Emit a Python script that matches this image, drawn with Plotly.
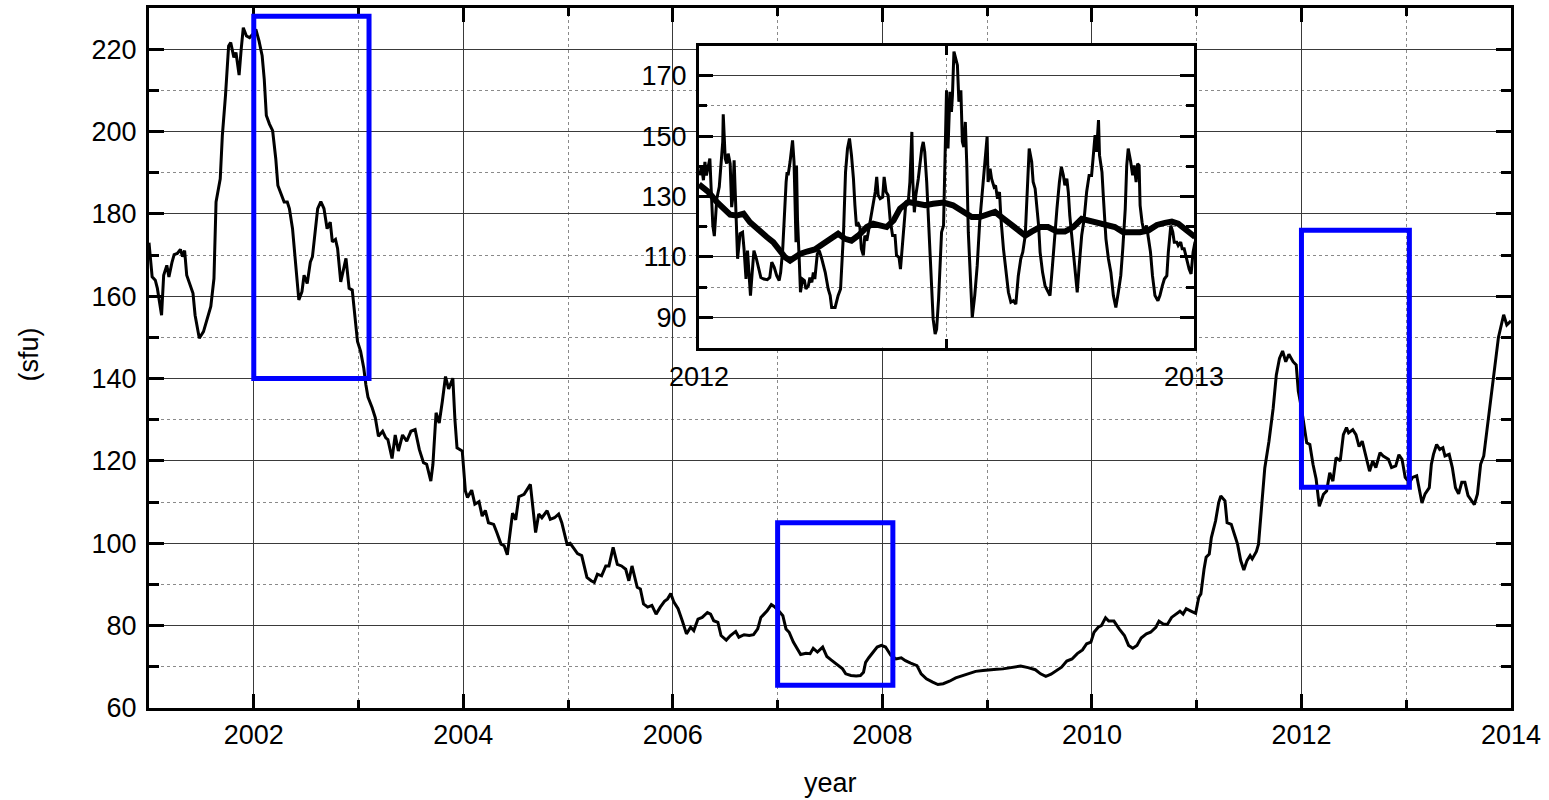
import plotly.graph_objects as go

# ---------------- data ----------------
main_year = [
    2001.00, 2001.03, 2001.06, 2001.08, 2001.12, 2001.14, 2001.17, 2001.19, 2001.22, 2001.24,
    2001.27, 2001.30, 2001.32, 2001.34, 2001.36, 2001.40, 2001.42, 2001.44, 2001.48, 2001.52,
    2001.56, 2001.59, 2001.62, 2001.64, 2001.68, 2001.70, 2001.73, 2001.76, 2001.78, 2001.81,
    2001.83, 2001.86, 2001.88, 2001.90, 2001.93, 2001.96, 2001.99, 2002.02, 2002.05, 2002.08,
    2002.10, 2002.12, 2002.15, 2002.18, 2002.21, 2002.23, 2002.26, 2002.29, 2002.32, 2002.34,
    2002.37, 2002.40, 2002.43, 2002.46, 2002.48, 2002.51, 2002.54, 2002.56, 2002.58, 2002.61,
    2002.64, 2002.67, 2002.70, 2002.73, 2002.75, 2002.78, 2002.80, 2002.83, 2002.88, 2002.91,
    2002.94, 2002.96, 2002.99, 2003.02, 2003.05, 2003.07, 2003.09, 2003.13, 2003.16, 2003.19,
    2003.23, 2003.26, 2003.28, 2003.32, 2003.35, 2003.38, 2003.42, 2003.46, 2003.50, 2003.54,
    2003.58, 2003.62, 2003.65, 2003.69, 2003.71, 2003.74, 2003.77, 2003.80, 2003.83, 2003.86,
    2003.90, 2003.92, 2003.94, 2003.99, 2004.02, 2004.04, 2004.08, 2004.11, 2004.15, 2004.18,
    2004.21, 2004.24, 2004.29, 2004.32, 2004.36, 2004.39, 2004.42, 2004.47, 2004.50, 2004.53,
    2004.58, 2004.61, 2004.64, 2004.69, 2004.72, 2004.75, 2004.80, 2004.83, 2004.87, 2004.91,
    2004.94, 2004.99, 2005.02, 2005.06, 2005.09, 2005.13, 2005.18, 2005.22, 2005.25, 2005.28,
    2005.32, 2005.36, 2005.39, 2005.43, 2005.47, 2005.51, 2005.55, 2005.58, 2005.61, 2005.66,
    2005.69, 2005.72, 2005.76, 2005.80, 2005.84, 2005.88, 2005.92, 2005.95, 2005.98, 2006.01,
    2006.05, 2006.09, 2006.13, 2006.17, 2006.20, 2006.24, 2006.28, 2006.33, 2006.36, 2006.39,
    2006.43, 2006.46, 2006.51, 2006.55, 2006.60, 2006.63, 2006.68, 2006.73, 2006.77, 2006.81,
    2006.84, 2006.87, 2006.90, 2006.94, 2006.97, 2007.01, 2007.05, 2007.08, 2007.11, 2007.15,
    2007.19, 2007.22, 2007.27, 2007.31, 2007.34, 2007.38, 2007.43, 2007.47, 2007.51, 2007.55,
    2007.59, 2007.62, 2007.65, 2007.70, 2007.75, 2007.79, 2007.82, 2007.84, 2007.87, 2007.91,
    2007.95, 2007.99, 2008.03, 2008.08, 2008.13, 2008.18, 2008.22, 2008.27, 2008.33, 2008.37,
    2008.42, 2008.48, 2008.53, 2008.58, 2008.64, 2008.70, 2008.77, 2008.83, 2008.89, 2008.96,
    2009.02, 2009.09, 2009.15, 2009.22, 2009.32, 2009.39, 2009.46, 2009.51, 2009.56, 2009.61,
    2009.66, 2009.71, 2009.76, 2009.81, 2009.86, 2009.91, 2009.95, 2009.99, 2010.02, 2010.06,
    2010.09, 2010.13, 2010.16, 2010.21, 2010.26, 2010.31, 2010.35, 2010.39, 2010.43, 2010.47,
    2010.52, 2010.56, 2010.61, 2010.64, 2010.68, 2010.72, 2010.76, 2010.80, 2010.84, 2010.87,
    2010.90, 2010.94, 2010.99, 2011.02, 2011.04, 2011.07, 2011.09, 2011.12, 2011.14, 2011.18,
    2011.21, 2011.23, 2011.27, 2011.29, 2011.33, 2011.36, 2011.39, 2011.42, 2011.45, 2011.48,
    2011.51, 2011.53, 2011.57, 2011.59, 2011.62, 2011.65, 2011.69, 2011.73, 2011.76, 2011.79,
    2011.82, 2011.85, 2011.88, 2011.92, 2011.95, 2011.97, 2012.00, 2012.03, 2012.05, 2012.08,
    2012.11, 2012.14, 2012.17, 2012.21, 2012.24, 2012.27, 2012.30, 2012.33, 2012.37, 2012.40,
    2012.43, 2012.45, 2012.49, 2012.52, 2012.55, 2012.58, 2012.61, 2012.65, 2012.68, 2012.71,
    2012.75, 2012.78, 2012.83, 2012.86, 2012.90, 2012.93, 2012.96, 2012.99, 2013.03, 2013.06,
    2013.10, 2013.13, 2013.15, 2013.18, 2013.22, 2013.24, 2013.26, 2013.29, 2013.32, 2013.35,
    2013.37, 2013.41, 2013.44, 2013.47, 2013.50, 2013.53, 2013.56, 2013.59, 2013.62, 2013.65,
    2013.68, 2013.71, 2013.74, 2013.78, 2013.81, 2013.84, 2013.88, 2013.93, 2013.96, 2014.00,
]
main_sfu = [
    173.0, 164.7, 163.9, 161.9, 155.4, 165.1, 167.5, 164.7, 168.3, 170.1,
    170.4, 171.4, 169.6, 171.1, 165.1, 161.9, 160.7, 155.4, 149.8, 151.4,
    155.0, 157.5, 164.3, 182.9, 188.5, 199.0, 208.7, 220.8, 221.6, 218.0,
    219.2, 213.7, 220.0, 225.2, 223.2, 222.8, 223.6, 224.8, 222.0, 218.4,
    212.7, 203.9, 201.8, 200.2, 193.4, 186.9, 184.9, 182.9, 182.9, 181.3,
    176.4, 167.5, 159.1, 161.1, 165.1, 163.1, 168.3, 169.6, 174.8, 181.3,
    183.0, 181.3, 176.4, 178.0, 173.2, 173.8, 171.6, 163.5, 169.2, 161.9,
    161.5, 157.0, 149.0, 146.6, 142.5, 138.5, 135.5, 132.9, 130.5, 126.0,
    127.2, 125.6, 125.2, 120.6, 126.3, 122.4, 126.3, 124.8, 127.2, 127.6,
    122.8, 119.6, 119.2, 115.1, 119.2, 131.7, 129.2, 134.5, 140.5, 137.5,
    140.1, 130.0, 123.2, 122.4, 112.7, 111.1, 112.9, 109.5, 110.1, 106.6,
    108.0, 105.0, 104.6, 102.6, 99.8, 99.4, 97.2, 107.3, 105.7, 111.3,
    111.9, 113.1, 114.3, 102.6, 107.1, 106.2, 107.9, 105.8, 106.2, 107.1,
    105.0, 99.8, 100.0, 98.6, 97.5, 97.0, 91.7, 90.9, 90.5, 92.5,
    92.1, 94.5, 94.5, 99.0, 94.9, 94.5, 93.7, 90.9, 94.5, 89.3,
    88.9, 85.3, 84.5, 84.9, 82.8, 84.5, 85.9, 86.5, 87.8, 85.7,
    84.1, 81.2, 78.0, 79.6, 78.8, 81.6, 82.0, 83.2, 82.8, 81.2,
    80.8, 77.6, 76.5, 77.6, 78.6, 77.2, 77.8, 77.6, 77.8, 79.2,
    82.0, 82.8, 83.6, 85.1, 84.6, 83.6, 82.4, 79.2, 78.4, 76.0,
    74.4, 73.0, 73.3, 73.2, 74.5, 73.6, 74.8, 72.5, 71.7, 70.9,
    70.2, 69.5, 68.3, 67.9, 67.8, 67.9, 68.7, 71.1, 72.2, 73.6,
    74.8, 75.2, 74.8, 72.8, 71.9, 72.2, 71.5, 70.9, 70.3, 68.3,
    67.1, 66.3, 65.7, 65.9, 66.5, 67.3, 67.9, 68.5, 68.9, 69.1,
    69.3, 69.4, 69.5, 69.8, 70.2, 69.8, 69.3, 68.3, 67.7, 68.2,
    69.0, 69.9, 71.4, 71.9, 73.2, 74.1, 75.6, 76.0, 78.4, 79.6,
    80.0, 81.9, 81.1, 81.1, 79.2, 77.6, 75.2, 74.5, 75.2, 77.0,
    78.0, 78.4, 79.6, 81.1, 80.4, 80.3, 82.0, 82.8, 83.5, 82.8,
    84.1, 83.6, 83.0, 86.9, 87.7, 93.7, 96.6, 97.4, 101.4, 105.4,
    109.9, 111.5, 110.3, 105.0, 104.6, 102.2, 99.8, 95.8, 93.5, 95.8,
    97.0, 96.2, 98.0, 99.8, 110.3, 118.3, 124.8, 132.8, 140.9, 144.9,
    146.7, 144.1, 145.9, 144.1, 143.3, 136.9, 132.8, 127.2, 124.4, 124.0,
    119.2, 115.6, 109.0, 111.9, 112.7, 117.1, 115.1, 120.8, 120.0, 126.4,
    128.1, 126.8, 127.6, 126.4, 123.5, 124.8, 121.5, 117.5, 120.0, 118.4,
    122.0, 121.2, 120.4, 118.4, 118.8, 121.5, 120.4, 116.0, 114.7, 116.0,
    116.4, 112.0, 109.8, 112.0, 113.5, 119.2, 121.6, 124.0, 122.8, 123.2,
    121.2, 121.6, 118.4, 113.5, 112.0, 114.8, 114.8, 111.6, 110.4, 109.4,
    112.0, 119.2, 121.2, 129.6, 135.2, 142.5, 150.0, 155.5, 153.0, 154.0,
]

# inset: daily values during 2012
daily_year = [
    2012.002, 2012.005, 2012.009, 2012.012, 2012.015, 2012.019, 2012.022, 2012.024, 2012.028, 2012.031,
    2012.036, 2012.041, 2012.044, 2012.048, 2012.049, 2012.053, 2012.056, 2012.059, 2012.063, 2012.066,
    2012.068, 2012.071, 2012.073, 2012.076, 2012.078, 2012.083, 2012.088, 2012.091, 2012.095, 2012.098,
    2012.100, 2012.104, 2012.107, 2012.111, 2012.116, 2012.121, 2012.125, 2012.131, 2012.138, 2012.143,
    2012.147, 2012.152, 2012.157, 2012.162, 2012.165, 2012.169, 2012.172, 2012.176, 2012.178, 2012.180,
    2012.184, 2012.187, 2012.189, 2012.192, 2012.194, 2012.196, 2012.197, 2012.199, 2012.203, 2012.205,
    2012.209, 2012.213, 2012.216, 2012.221, 2012.224, 2012.228, 2012.231, 2012.234, 2012.239, 2012.243,
    2012.248, 2012.255, 2012.261, 2012.265, 2012.268, 2012.275, 2012.281, 2012.286, 2012.292, 2012.296,
    2012.300, 2012.304, 2012.308, 2012.312, 2012.315, 2012.318, 2012.322, 2012.325, 2012.328, 2012.332,
    2012.335, 2012.339, 2012.342, 2012.347, 2012.351, 2012.356, 2012.359, 2012.362, 2012.366, 2012.371,
    2012.374, 2012.378, 2012.382, 2012.386, 2012.391, 2012.396, 2012.399, 2012.404, 2012.407, 2012.411,
    2012.414, 2012.418, 2012.423, 2012.426, 2012.430, 2012.432, 2012.435, 2012.438, 2012.443, 2012.446,
    2012.450, 2012.453, 2012.456, 2012.460, 2012.465, 2012.470, 2012.473, 2012.477, 2012.480, 2012.484,
    2012.490, 2012.494, 2012.497, 2012.500, 2012.503, 2012.507, 2012.510, 2012.512, 2012.515, 2012.519,
    2012.522, 2012.525, 2012.529, 2012.532, 2012.535, 2012.538, 2012.541, 2012.544, 2012.548, 2012.552,
    2012.557, 2012.562, 2012.567, 2012.573, 2012.577, 2012.582, 2012.584, 2012.588, 2012.591, 2012.596,
    2012.599, 2012.603, 2012.607, 2012.610, 2012.615, 2012.620, 2012.625, 2012.630, 2012.635, 2012.640,
    2012.645, 2012.650, 2012.654, 2012.659, 2012.662, 2012.667, 2012.672, 2012.675, 2012.679, 2012.682,
    2012.686, 2012.689, 2012.694, 2012.699, 2012.704, 2012.709, 2012.714, 2012.718, 2012.723, 2012.728,
    2012.732, 2012.736, 2012.739, 2012.743, 2012.746, 2012.749, 2012.755, 2012.759, 2012.764, 2012.768,
    2012.773, 2012.778, 2012.783, 2012.788, 2012.793, 2012.796, 2012.800, 2012.803, 2012.807, 2012.809,
    2012.814, 2012.817, 2012.822, 2012.827, 2012.832, 2012.837, 2012.842, 2012.847, 2012.852, 2012.856,
    2012.861, 2012.864, 2012.867, 2012.872, 2012.876, 2012.879, 2012.883, 2012.886, 2012.889, 2012.891,
    2012.895, 2012.899, 2012.904, 2012.908, 2012.912, 2012.916, 2012.921, 2012.927, 2012.931, 2012.936,
    2012.940, 2012.945, 2012.948, 2012.953, 2012.957, 2012.960, 2012.965, 2012.968, 2012.973, 2012.976,
    2012.980, 2012.985, 2012.990, 2012.994, 2012.998, 2013.002,
]
daily_sfu = [
    137.0, 140.3, 135.4, 141.5, 137.0, 140.9, 142.6, 134.8, 120.4, 116.9,
    129.3, 133.2, 139.8, 148.1, 157.2, 142.6, 140.9, 144.2, 140.9, 126.5,
    129.3, 142.0, 132.6, 112.7, 109.4, 117.7, 118.2, 112.7, 102.7, 112.1,
    106.6, 97.2, 103.8, 112.1, 109.4, 106.0, 103.2, 102.7, 102.5, 103.2,
    108.3, 106.6, 103.8, 102.2, 104.9, 112.1, 123.2, 134.8, 138.1, 137.0,
    141.5, 146.4, 148.6, 141.5, 127.1, 114.9, 140.3, 122.6, 107.1, 98.3,
    102.7, 102.2, 99.4, 100.5, 103.2, 101.6, 104.9, 102.7, 111.0, 112.1,
    109.4, 104.9, 99.4, 97.2, 93.3, 93.3, 97.2, 99.4, 118.2, 138.1,
    145.9, 149.2, 143.7, 135.9, 127.1, 120.4, 121.0, 119.9, 112.7, 110.5,
    117.1, 115.4, 118.2, 122.6, 127.1, 131.5, 136.5, 130.4, 129.3, 129.8,
    136.5, 131.5, 130.4, 122.6, 117.1, 117.1, 110.5, 109.9, 106.0, 113.8,
    121.5, 128.2, 128.7, 134.8, 151.4, 134.8, 124.8, 130.4, 135.9, 140.9,
    145.9, 148.1, 144.8, 134.8, 118.2, 99.4, 89.4, 84.5, 86.1, 96.1,
    118.2, 120.4, 140.3, 165.2, 145.9, 164.7, 158.0, 163.6, 178.0, 175.8,
    173.5, 161.4, 165.2, 148.1, 146.4, 154.7, 140.3, 118.2, 101.6, 90.0,
    97.2, 107.1, 121.5, 132.6, 140.3, 149.8, 134.8, 139.2, 135.9, 133.2,
    133.7, 129.3, 131.5, 122.6, 112.7, 104.9, 98.3, 95.0, 95.5, 94.4,
    103.8, 109.4, 111.6, 117.1, 128.2, 145.9, 141.5, 134.8, 132.6, 127.6,
    120.4, 111.6, 104.9, 100.5, 98.8, 97.2, 107.1, 116.0, 125.9, 134.8,
    139.8, 137.0, 133.7, 135.9, 131.5, 123.7, 112.7, 107.1, 98.3, 107.1,
    117.1, 122.6, 131.5, 137.0, 137.0, 142.6, 150.3, 144.8, 155.3, 143.7,
    138.1, 129.3, 116.0, 109.4, 104.9, 97.2, 93.3, 98.3, 103.8, 112.7,
    125.9, 140.3, 145.9, 141.5, 137.0, 140.3, 134.8, 140.9, 140.3, 127.1,
    121.5, 118.2, 120.4, 116.0, 111.6, 103.8, 97.2, 95.5, 97.2, 100.5,
    102.7, 103.8, 111.6, 120.4, 118.2, 114.9, 114.9, 113.8, 114.9, 112.7,
    112.7, 109.4, 106.0, 104.4, 111.6, 115.0,
]

# inset: smoothed values during 2012
smooth_year = [
    2012.000, 2012.019, 2012.036, 2012.053, 2012.063, 2012.076, 2012.090, 2012.103, 2012.120, 2012.137,
    2012.150, 2012.164, 2012.174, 2012.184, 2012.194, 2012.204, 2012.218, 2012.234, 2012.251, 2012.268,
    2012.281, 2012.295, 2012.308, 2012.322, 2012.339, 2012.352, 2012.366, 2012.379, 2012.393, 2012.406,
    2012.423, 2012.440, 2012.457, 2012.473, 2012.494, 2012.513, 2012.533, 2012.551, 2012.567, 2012.584,
    2012.598, 2012.611, 2012.628, 2012.643, 2012.659, 2012.672, 2012.689, 2012.705, 2012.723, 2012.739,
    2012.756, 2012.773, 2012.790, 2012.807, 2012.824, 2012.840, 2012.857, 2012.874, 2012.891, 2012.908,
    2012.925, 2012.941, 2012.955, 2012.968, 2012.985, 2013.002,
]
smooth_sfu = [
    134.0, 131.5, 128.2, 125.4, 124.0, 123.7, 124.3, 121.5, 118.8, 116.6,
    114.9, 112.1, 109.9, 108.8, 109.9, 111.0, 111.8, 112.5, 114.4, 116.6,
    117.7, 116.0, 115.4, 117.1, 119.9, 121.0, 120.4, 119.9, 122.1, 126.0,
    128.2, 127.6, 127.1, 127.6, 128.0, 127.1, 124.9, 123.2, 123.2, 124.3,
    124.9, 123.2, 121.0, 118.8, 117.1, 118.4, 119.9, 119.9, 118.4, 118.4,
    119.9, 122.6, 121.9, 121.5, 121.0, 119.9, 118.2, 118.2, 118.2, 118.8,
    120.6, 121.3, 121.7, 121.0, 118.8, 116.6,
]

# highlighted intervals (blue boxes)
box_x0 = [2002.0, 2007.0, 2012.0]
box_x1 = [2003.1, 2008.1, 2013.03]
box_y0 = [140.0, 65.5, 113.6]
box_y1 = [228.0, 105.0, 176.0]

x_ticks_main = [2002, 2004, 2006, 2008, 2010, 2012, 2014]
y_ticks_main = [60, 80, 100, 120, 140, 160, 180, 200, 220]
x_ticks_inset = [2012, 2013]
y_ticks_inset = [90, 110, 130, 150, 170]

# ---------------- figure ----------------
FONT = "Liberation Sans, Arial, Helvetica, sans-serif"
FS = 27
TICKFONT = dict(family=FONT, size=FS, color="black")

fig = go.Figure()
fig.add_trace(go.Scatter(x=main_year, y=main_sfu, mode="lines",
                         line=dict(color="black", width=3),
                         xaxis="x", yaxis="y", showlegend=False, hoverinfo="skip"))
fig.add_trace(go.Scatter(x=daily_year, y=daily_sfu, mode="lines",
                         line=dict(color="black", width=3),
                         xaxis="x2", yaxis="y2", showlegend=False, hoverinfo="skip"))
fig.add_trace(go.Scatter(x=smooth_year, y=smooth_sfu, mode="lines",
                         line=dict(color="black", width=6),
                         xaxis="x2", yaxis="y2", showlegend=False, hoverinfo="skip"))

common = dict(showline=True, linecolor="black", linewidth=3, mirror="ticks",
              ticks="inside", tickcolor="black", tickwidth=2.5,
              showgrid=True, gridcolor="#3a3a3a", gridwidth=1, zeroline=False,
              tickfont=TICKFONT)
minor_common = dict(ticks="inside", tickcolor="black", tickwidth=2.5,
                    showgrid=True, gridcolor="#8a8a8a", gridwidth=1, griddash="dot")

shapes = []
# white background for the inset (covers the main grid)
shapes.append(dict(type="rect", xref="x2", yref="y2", x0=2012, x1=2013, y0=80, y1=180,
                   fillcolor="white", line=dict(width=0), layer="below"))
for a, b, c, d in zip(box_x0, box_x1, box_y0, box_y1):
    shapes.append(dict(type="rect", xref="x", yref="y", x0=a, x1=b, y0=c, y1=d,
                       line=dict(color="#0000ff", width=5), fillcolor="rgba(0,0,0,0)",
                       layer="above"))

fig.update_layout(
    width=1549, height=800,
    margin=dict(l=149, r=38, t=5, b=92),
    paper_bgcolor="white", plot_bgcolor="white",
    font=dict(family=FONT, color="black"),
    showlegend=False,
    xaxis=dict(common, range=[2001, 2014], tickmode="array", tickvals=x_ticks_main,
               ticktext=[str(v) for v in x_ticks_main], ticklen=14,
               minor=dict(minor_common, dtick=1, tick0=2001, ticklen=8),
               domain=[0, 1], anchor="y", ticklabelstandoff=1),
    yaxis=dict(common, range=[60, 230], tickmode="array", tickvals=y_ticks_main,
               ticktext=[str(v) for v in y_ticks_main], ticklen=15,
               minor=dict(minor_common, dtick=10, tick0=60, ticklen=10),
               domain=[0, 1], anchor="x", ticklabelstandoff=4),
    xaxis2=dict(common, range=[2012, 2013], tickmode="array", tickvals=x_ticks_inset,
                ticktext=[str(v) for v in x_ticks_inset], ticklen=14,
                minor=dict(minor_common, tickmode="array", tickvals=[2012.5], ticklen=9),
                domain=[0.4038, 0.7673], anchor="y2", ticklabelstandoff=3),
    yaxis2=dict(common, range=[80, 180], tickmode="array", tickvals=y_ticks_inset,
                ticktext=[str(v) for v in y_ticks_inset], ticklen=14,
                minor=dict(minor_common, dtick=10, tick0=80, ticklen=8),
                domain=[0.5149, 0.9464], anchor="x2", ticklabelstandoff=4),
    shapes=shapes,
    annotations=[
        dict(text="year", xref="paper", yref="paper", x=0.5, y=-0.107,
             xanchor="center", yanchor="middle", showarrow=False,
             font=dict(family=FONT, size=FS, color="black")),
        dict(text="(sfu)", xref="paper", yref="paper", x=-0.0888, y=0.505,
             xanchor="center", yanchor="middle", textangle=-90, showarrow=False,
             font=dict(family=FONT, size=FS, color="black")),
    ],
)

fig.write_html("out.html", config={"displayModeBar": False},
               post_script="document.body.style.margin='0';")
